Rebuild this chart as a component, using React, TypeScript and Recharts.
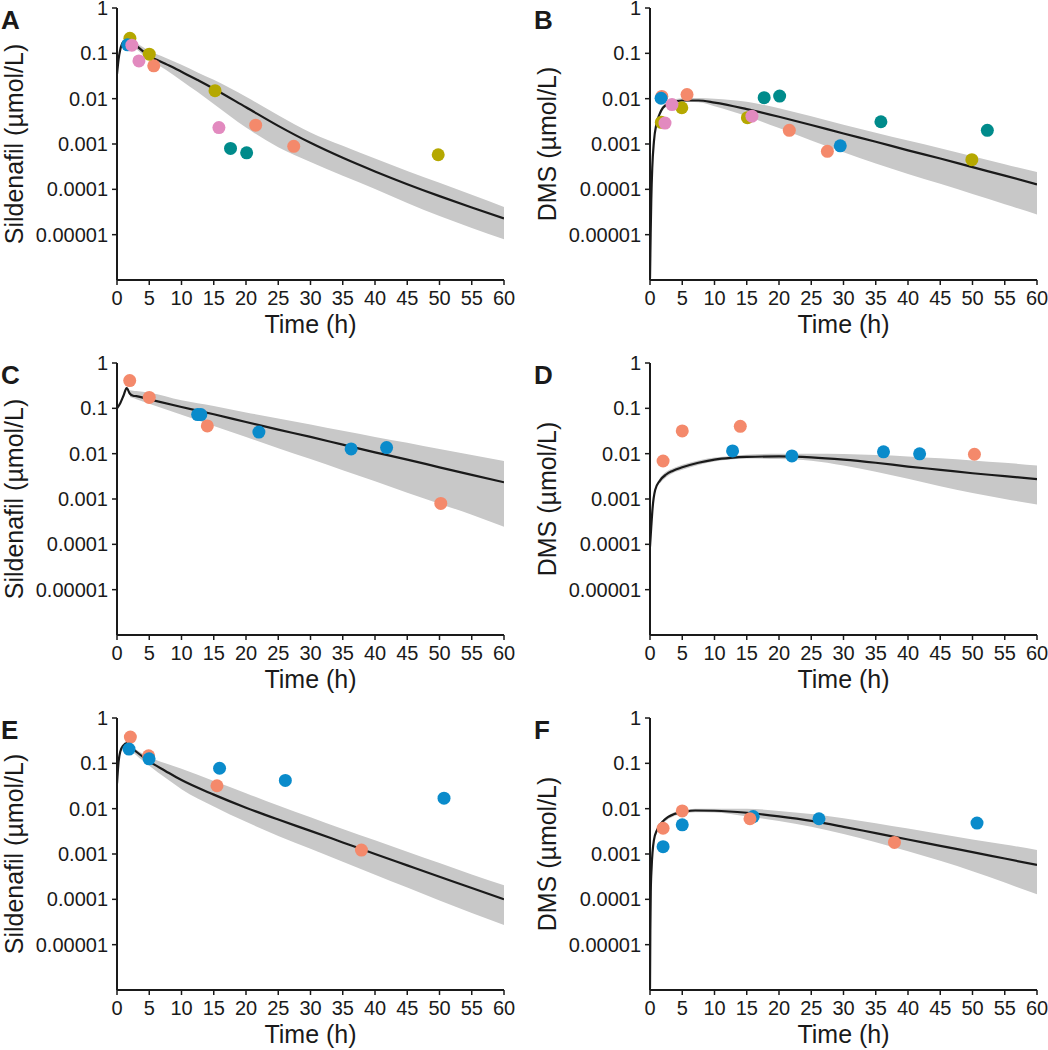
import React from 'react';
import { ComposedChart, Line, Area, Scatter, XAxis, YAxis } from 'recharts';

const FONT = '"Liberation Sans", Arial, Helvetica, sans-serif';
const INK = '#1a1a1a';

const xTicks = [0, 5, 10, 15, 20, 25, 30, 35, 40, 45, 50, 55, 60];
const yTicks = [1, 0.1, 0.01, 0.001, 0.0001, 0.00001];
const yTickLabels = ['1', '0.1', '0.01', '0.001', '0.0001', '0.00001'];

const studyColors: Record<string, string> = {
  s1: '#F4896B',
  s2: '#0A8BCB',
  s3: '#008B8B',
  s4: '#B5A800',
  s5: '#E28ABF',
};

// ---------- Panel A: Sildenafil ----------
const timeA = [0, 0.25, 0.5, 1, 1.5, 2, 3, 5, 7.5, 10, 12.5, 15, 20, 25, 30, 35, 40, 45, 50, 55, 60];
const medA = [0.035, 0.075, 0.12, 0.18, 0.195, 0.18, 0.145, 0.088, 0.059, 0.0394, 0.0257, 0.0166, 0.00646, 0.00251, 0.00106, 0.000495, 0.000248, 0.00013, 0.0000708, 0.0000398, 0.0000229];
const lowA = [null, null, null, null, 0.19, 0.165, 0.125, 0.071, 0.044, 0.025, 0.014, 0.0076, 0.0023, 0.00085, 0.0004, 0.0002, 0.000102, 0.00005, 0.0000257, 0.0000141, 0.0000079];
const highA = [null, null, null, null, 0.2, 0.205, 0.17, 0.114, 0.08, 0.056, 0.038, 0.026, 0.011, 0.0043, 0.0018, 0.000912, 0.000479, 0.000254, 0.00014, 0.000076, 0.0000407];
const obsA: [string, number, number][] = [
  ['s3', 17.6, 0.0008], ['s3', 20.1, 0.00064],
  ['s1', 5.7, 0.053], ['s1', 21.5, 0.0026], ['s1', 27.4, 0.00089],
  ['s4', 2.0, 0.215], ['s4', 5.0, 0.096], ['s4', 15.2, 0.015], ['s4', 49.8, 0.00058],
  ['s2', 1.65, 0.154],
  ['s5', 2.3, 0.151], ['s5', 3.4, 0.068], ['s5', 15.8, 0.0023],
];

// ---------- Panel B: DMS ----------
const timeB = [0, 0.1, 0.2, 0.35, 0.6, 1, 1.5, 2, 3, 5, 7.5, 10, 15, 20, 25, 30, 35, 40, 45, 50, 55, 60];
const medB = [0.0000011, 0.00001, 0.00006, 0.0003, 0.0011, 0.0028, 0.0046, 0.0063, 0.0079, 0.0091, 0.0091, 0.0082, 0.0059, 0.004, 0.00263, 0.0017, 0.00112, 0.000724, 0.000479, 0.000309, 0.0002, 0.000129];
const lowB = [null, null, null, null, null, null, 0.0042, 0.0058, 0.0071, 0.0085, 0.0083, 0.0068, 0.0041, 0.00224, 0.0012, 0.00066, 0.00037, 0.000219, 0.000132, 0.000079, 0.000047, 0.000028];
const highB = [null, null, null, null, null, null, 0.005, 0.0069, 0.0089, 0.0102, 0.0104, 0.0099, 0.0085, 0.00617, 0.00407, 0.00266, 0.00176, 0.00119, 0.000804, 0.000537, 0.000359, 0.00024];
const obsB: [string, number, number][] = [
  ['s3', 17.7, 0.0105], ['s3', 20.1, 0.0114], ['s3', 35.8, 0.0031], ['s3', 52.3, 0.002],
  ['s1', 1.83, 0.0112], ['s1', 5.74, 0.0123], ['s1', 21.6, 0.002], ['s1', 27.5, 0.00069],
  ['s2', 1.72, 0.0102], ['s2', 29.5, 0.00091],
  ['s4', 1.76, 0.003], ['s4', 4.93, 0.0063], ['s4', 15.1, 0.0038], ['s4', 49.9, 0.00045],
  ['s5', 2.33, 0.0029], ['s5', 3.41, 0.0074], ['s5', 15.8, 0.0041],
];

// ---------- Panel C: Sildenafil ----------
const timeC = [0, 0.5, 1, 1.5, 2, 2.5, 3, 5, 10, 15, 20, 25, 30, 35, 40, 45, 50, 55, 60];
const medC = [0.1, 0.13, 0.19, 0.28, 0.21, 0.19, 0.186, 0.158, 0.107, 0.074, 0.05, 0.034, 0.0234, 0.0158, 0.0107, 0.0074, 0.005, 0.0034, 0.00234];
const lowC = [null, null, null, null, 0.178, 0.168, 0.158, 0.126, 0.072, 0.041, 0.0234, 0.0132, 0.0076, 0.0043, 0.00245, 0.00138, 0.00079, 0.00045, 0.000245];
const highC = [null, null, null, null, 0.25, 0.245, 0.24, 0.22, 0.15, 0.112, 0.081, 0.06, 0.044, 0.032, 0.0234, 0.0174, 0.0126, 0.0093, 0.0069];
const obsC: [string, number, number][] = [
  ['s1', 1.97, 0.41], ['s1', 5.0, 0.174], ['s1', 14.0, 0.041], ['s1', 50.2, 0.0008],
  ['s2', 12.5, 0.073], ['s2', 13.0, 0.073], ['s2', 22.0, 0.03], ['s2', 36.3, 0.0127], ['s2', 41.8, 0.0136],
];

// ---------- Panel D: DMS ----------
const timeD = [0, 0.2, 0.4, 0.8, 1.5, 2.5, 3.5, 5, 7.5, 10, 12.5, 15, 20, 25, 30, 35, 40, 45, 50, 55, 60];
const medD = [0.000089, 0.00025, 0.00063, 0.00158, 0.00251, 0.00347, 0.00417, 0.005, 0.0063, 0.0074, 0.0081, 0.0085, 0.0087, 0.0083, 0.0074, 0.0063, 0.0052, 0.0044, 0.0037, 0.0032, 0.00275];
const lowD = [null, null, null, null, 0.0022, 0.003, 0.0037, 0.0044, 0.0056, 0.0067, 0.0074, 0.0078, 0.0076, 0.007, 0.0055, 0.004, 0.0028, 0.0019, 0.00135, 0.001, 0.00076];
const highD = [null, null, null, null, 0.0029, 0.004, 0.0047, 0.0057, 0.0071, 0.0082, 0.0089, 0.0095, 0.01, 0.01, 0.0098, 0.0093, 0.0087, 0.0079, 0.0071, 0.0063, 0.0055];
const obsD: [string, number, number][] = [
  ['s1', 2.03, 0.0069], ['s1', 5.0, 0.0318], ['s1', 14.0, 0.04], ['s1', 50.3, 0.0097],
  ['s2', 12.8, 0.0115], ['s2', 22.0, 0.0089], ['s2', 36.2, 0.011], ['s2', 41.8, 0.0099],
];

// ---------- Panel E: Sildenafil ----------
const timeE = [0, 0.25, 0.5, 1, 1.5, 2, 3, 5, 7.5, 10, 15, 20, 25, 30, 35, 40, 45, 50, 55, 60];
const medE = [0.036, 0.11, 0.18, 0.25, 0.28, 0.235, 0.18, 0.11, 0.068, 0.0427, 0.0204, 0.0105, 0.00575, 0.00324, 0.0018, 0.001, 0.000562, 0.000316, 0.000178, 0.0001];
const lowE = [null, null, null, null, 0.27, 0.21, 0.15, 0.089, 0.048, 0.0269, 0.0112, 0.00513, 0.00251, 0.0013, 0.000676, 0.00035, 0.000182, 0.0000944, 0.00005, 0.000027];
const highE = [null, null, null, null, 0.29, 0.25, 0.2, 0.138, 0.1, 0.076, 0.0407, 0.0219, 0.0117, 0.00646, 0.00355, 0.002, 0.00112, 0.00063, 0.000355, 0.000204];
const obsE: [string, number, number][] = [
  ['s1', 2.07, 0.38], ['s1', 4.9, 0.147], ['s1', 15.5, 0.032], ['s1', 37.9, 0.00122],
  ['s2', 1.86, 0.206], ['s2', 4.97, 0.126], ['s2', 15.9, 0.078], ['s2', 26.1, 0.042], ['s2', 50.7, 0.017],
];

// ---------- Panel F: DMS ----------
const timeF = [0, 0.05, 0.12, 0.25, 0.6, 1.1, 2.2, 3.75, 5, 7, 10, 15, 20, 25, 30, 35, 40, 45, 50, 55, 60];
const medF = [0.0000011, 0.00002, 0.00015, 0.0005, 0.002, 0.0034, 0.0056, 0.0076, 0.0083, 0.0091, 0.009, 0.00813, 0.00676, 0.00537, 0.00398, 0.00288, 0.00209, 0.00151, 0.0011, 0.000794, 0.000575];
const lowF = [null, null, null, null, null, null, 0.0051, 0.0069, 0.0076, 0.0083, 0.0082, 0.00676, 0.00537, 0.00398, 0.00275, 0.00182, 0.00115, 0.000708, 0.000417, 0.000234, 0.000129];
const highF = [null, null, null, null, null, null, 0.0061, 0.0083, 0.0091, 0.0099, 0.01, 0.01, 0.0089, 0.00759, 0.00617, 0.00479, 0.00363, 0.00275, 0.00209, 0.00162, 0.00123];
const obsF: [string, number, number][] = [
  ['s2', 2.03, 0.00145], ['s2', 5.0, 0.0044], ['s2', 16.0, 0.0067], ['s2', 26.2, 0.006], ['s2', 50.7, 0.0048],
  ['s1', 2.03, 0.0037], ['s1', 5.0, 0.0089], ['s1', 15.5, 0.006], ['s1', 37.9, 0.0018],
];

const panelLetters = ['A', 'B', 'C', 'D', 'E', 'F'];
const yTitles = ['Sildenafil (µmol/L)', 'DMS (µmol/L)'];
const xTitle = 'Time (h)';

// ---------- layout ----------
const COL_LEFT = [0, 533];
const CHART_W = [524, 515];
const PLOT_TOP = [8, 363, 718];
const PLOT_H = 272;
const Y_AXIS_W = 117;
const PLOT_W = 387;
const X_AXIS_H = 30;
const BOTTOM_M = 5;
const TOP_M = 20;

function buildRows(time: number[], med: number[], low: (number | null)[], high: (number | null)[]) {
  return time.map((t, i) => ({
    t,
    med: med[i],
    band: low[i] == null || high[i] == null ? null : [low[i], high[i]],
  }));
}

const panelsData = [
  { rows: buildRows(timeA, medA, lowA, highA), obs: obsA },
  { rows: buildRows(timeB, medB, lowB, highB), obs: obsB },
  { rows: buildRows(timeC, medC, lowC, highC), obs: obsC },
  { rows: buildRows(timeD, medD, lowD, highD), obs: obsD },
  { rows: buildRows(timeE, medE, lowE, highE), obs: obsE },
  { rows: buildRows(timeF, medF, lowF, highF), obs: obsF },
];

function groupObs(obs: [string, number, number][]) {
  const groups: { study: string; pts: { t: number; c: number }[] }[] = [];
  obs.forEach(([s, t, c]) => {
    let g = groups.find((x) => x.study === s);
    if (!g) {
      g = { study: s, pts: [] };
      groups.push(g);
    }
    g.pts.push({ t, c });
  });
  return groups;
}

function Panel({ idx }: { idx: number }) {
  const col = idx % 2;
  const row = Math.floor(idx / 2);
  const { rows, obs } = panelsData[idx];
  const groups = groupObs(obs);
  const width = CHART_W[col];
  const height = TOP_M + PLOT_H + X_AXIS_H + BOTTOM_M;
  const tickStyle = { fontSize: 20, fill: INK, fontFamily: FONT };
  return (
    <div style={{ position: 'absolute', left: COL_LEFT[col], top: PLOT_TOP[row] - TOP_M }}>
      <ComposedChart
        width={width}
        height={height}
        data={rows}
        margin={{ top: TOP_M, right: width - Y_AXIS_W - PLOT_W, bottom: BOTTOM_M, left: 0 }}
      >
        <XAxis
          type="number"
          dataKey="t"
          domain={[0, 60]}
          ticks={xTicks}
          allowDataOverflow
          height={X_AXIS_H}
          tick={tickStyle}
          tickSize={5}
          tickMargin={6}
          axisLine={{ stroke: INK, strokeWidth: 2 }}
          tickLine={{ stroke: INK, strokeWidth: 1.5 }}
          interval={0}
        />
        <YAxis
          type="number"
          scale="log"
          domain={[0.000001, 1]}
          ticks={yTicks}
          allowDataOverflow
          width={Y_AXIS_W}
          tick={tickStyle}
          tickSize={5}
          tickMargin={4}
          interval={0}
          tickFormatter={(v: number) => yTickLabels[yTicks.indexOf(v)] ?? String(v)}
          axisLine={{ stroke: INK, strokeWidth: 2 }}
          tickLine={{ stroke: INK, strokeWidth: 1.5 }}
        />
        <Area
          type="monotone"
          dataKey="band"
          fill="#c8c8c8"
          fillOpacity={1}
          stroke="none"
          isAnimationActive={false}
          dot={false}
          activeDot={false}
        />
        <Line
          type="monotone"
          dataKey="med"
          stroke={INK}
          strokeWidth={2.2}
          dot={false}
          activeDot={false}
          isAnimationActive={false}
        />
        {groups.map((g) => (
          <Scatter
            key={g.study}
            data={g.pts}
            dataKey="c"
            isAnimationActive={false}
            shape={(p: any) => <circle cx={p.cx} cy={p.cy} r={6.5} fill={studyColors[g.study]} />}
          />
        ))}
      </ComposedChart>
    </div>
  );
}

export default function App() {
  const titleStyle = { fontFamily: FONT, fill: INK };
  return (
    <div style={{ position: 'absolute', left: 0, top: 0, width: 1048, height: 1050, background: '#fff', overflow: 'hidden' }}>
      {panelLetters.map((_, i) => (
        <Panel key={i} idx={i} />
      ))}
      <svg
        width={1048}
        height={1050}
        style={{ position: 'absolute', left: 0, top: 0, pointerEvents: 'none' }}
      >
        {panelLetters.map((L, i) => {
          const col = i % 2;
          const row = Math.floor(i / 2);
          const top = PLOT_TOP[row];
          const axisX = COL_LEFT[col] + Y_AXIS_W;
          const letterX = col === 0 ? 1 : 534;
          return (
            <g key={L}>
              <text x={letterX} y={top + 21} fontSize={26} fontWeight="bold" {...titleStyle}>
                {L}
              </text>
              <text
                transform={`translate(${axisX - 94}, ${top + PLOT_H / 2}) rotate(-90)`}
                textAnchor="middle"
                fontSize={25}
                {...titleStyle}
              >
                {yTitles[col]}
              </text>
              <text
                x={axisX + PLOT_W / 2}
                y={top + PLOT_H + 53}
                textAnchor="middle"
                fontSize={25}
                {...titleStyle}
              >
                {xTitle}
              </text>
            </g>
          );
        })}
      </svg>
    </div>
  );
}
